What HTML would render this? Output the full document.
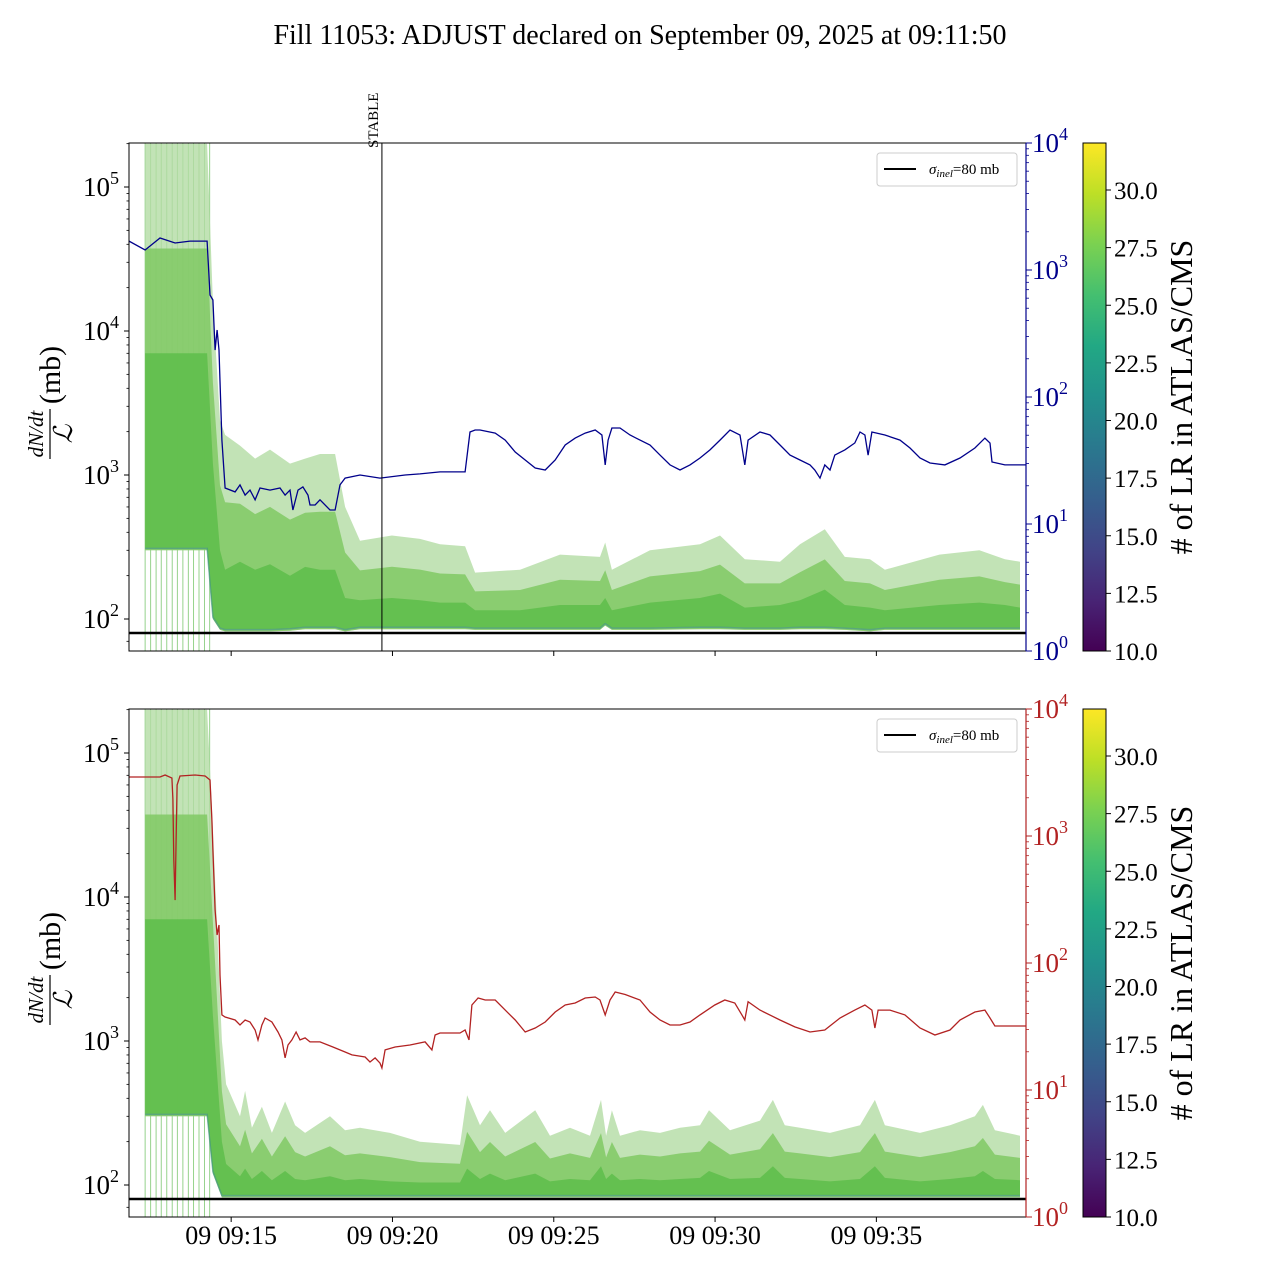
<!DOCTYPE html>
<html><head><meta charset="utf-8"><style>
html,body{margin:0;padding:0;background:#fff;}
svg{display:block;font-family:"Liberation Serif",serif;}
</style></head><body>
<svg id="fig" width="1280" height="1280" viewBox="0 0 1280 1280" xmlns="http://www.w3.org/2000/svg">
<defs>
<linearGradient id="viridis" x1="0" y1="1" x2="0" y2="0">
<stop offset="0" stop-color="#440154"/><stop offset="0.1" stop-color="#482475"/><stop offset="0.2" stop-color="#414487"/><stop offset="0.3" stop-color="#355f8d"/><stop offset="0.4" stop-color="#2a788e"/><stop offset="0.5" stop-color="#21918c"/><stop offset="0.6" stop-color="#22a884"/><stop offset="0.7" stop-color="#44bf70"/><stop offset="0.8" stop-color="#7ad151"/><stop offset="0.9" stop-color="#bddf26"/><stop offset="1" stop-color="#fde725"/>
</linearGradient>
<clipPath id="clipTop"><rect x="129" y="143" width="897" height="508"/></clipPath>
<clipPath id="clipBot"><rect x="129" y="709" width="897" height="508"/></clipPath>
</defs>
<text x="640" y="44" font-size="28" text-anchor="middle">Fill 11053: ADJUST declared on September 09, 2025 at 09:11:50</text>
</svg>
<script>
// ---------- data ----------
// time in minutes since 09:11:50
const spikeTimes = [0.50,0.67,0.84,1.00,1.17,1.34,1.50,1.67,1.84,2.00,2.17,2.34,2.50];
const stableTime = 7.84;
const sigmaInel = 80;
const xTickLabels = ["09 09:15","09 09:20","09 09:25","09 09:30","09 09:35"];
const xTickTimes = [3.167,8.167,13.167,18.167,23.167];
const leftTickVals = [100,1000,10000,100000];
const leftTickExp = ["2","3","4","5"];
const rightTickVals = [1,10,100,1000,10000];
const rightTickExp = ["0","1","2","3","4"];
const cbarTicks = [10.0,12.5,15.0,17.5,20.0,22.5,25.0,27.5,30.0];

const topBandT = [0.50,2.42,2.60,2.82,2.98,3.44,3.91,4.37,4.99,5.46,5.92,6.39,6.70,7.16,8.15,9.02,9.64,10.42,10.73,12.12,13.36,14.60,14.76,14.97,16.15,17.70,18.32,19.09,20.18,20.80,21.57,22.19,22.97,23.43,25.12,26.36,27.15,27.62];
const topBandUpper = [200000,200000,16000,2400,1900,1600,1300,1500,1200,1300,1400,1400,600,350,380,360,330,320,210,220,280,270,340,220,300,330,380,260,250,330,420,270,260,220,280,300,260,250];
const topBandMid = [7000,7000,1200,300,220,250,220,240,200,230,220,220,140,135,140,135,130,130,115,115,125,125,140,115,130,140,150,120,125,135,160,125,120,115,125,130,125,120];
const topBandLower = [300,300,100,84,82,82,82,82,83,85,85,85,82,85,85,85,85,85,84,84,84,84,90,84,84,85,85,84,84,85,85,84,82,84,84,84,84,84];

const botBandT = [0.50,2.42,2.60,2.88,3.01,3.44,3.60,3.81,4.12,4.43,4.84,5.15,5.46,6.23,6.70,7.16,8.09,9.02,10.26,10.48,10.88,11.19,11.66,12.59,13.05,13.67,14.29,14.63,14.79,14.97,15.22,15.84,16.46,17.08,17.70,17.98,18.63,19.56,19.96,20.33,20.80,21.73,22.66,23.12,23.43,24.52,25.45,26.22,26.47,26.84,27.62];
const botBandUpper = [200000,200000,30000,1000,500,300,450,250,350,230,380,260,230,300,240,250,230,200,190,420,260,330,230,330,220,250,220,390,220,330,220,240,230,250,260,330,240,280,390,260,250,230,260,390,260,230,260,300,360,240,220];
const botBandMid = [7000,7000,1500,200,140,115,130,110,125,108,125,110,108,115,108,110,106,104,104,130,110,120,108,120,106,110,108,135,110,120,108,110,108,110,112,125,110,112,135,112,110,106,110,135,112,106,110,115,125,110,108];
const botBandLower = [300,300,120,82,82,82,82,82,82,82,82,82,82,82,82,82,82,82,82,82,82,82,82,82,82,82,82,82,82,82,82,82,82,82,82,82,82,82,82,82,82,82,82,82,82,82,82,82,82,82,82];

const blueT = [0,0.50,0.96,1.43,1.89,2.42,2.51,2.60,2.67,2.73,2.79,2.88,2.98,3.29,3.44,3.60,3.75,3.91,4.06,4.37,4.68,4.84,4.99,5.08,5.24,5.39,5.55,5.61,5.77,5.92,6.23,6.39,6.45,6.54,6.70,7.16,7.78,8.56,9.02,9.64,10.42,10.57,10.73,10.88,11.35,11.66,11.97,12.28,12.59,12.90,13.21,13.52,13.83,14.14,14.45,14.66,14.76,14.85,14.97,15.22,15.53,15.84,16.15,16.46,16.77,17.08,17.39,17.70,18.01,18.32,18.63,18.94,19.09,19.19,19.56,19.87,20.18,20.49,20.80,21.11,21.26,21.42,21.57,21.73,21.88,22.19,22.50,22.66,22.81,22.91,23.03,23.43,23.90,24.21,24.52,24.83,25.29,25.76,26.22,26.53,26.69,26.75,27.15,27.81];
const blueV = [1690,1436,1786,1632,1690,1690,635,580,234,337,234,45.8,19.2,17.9,20.3,16.9,18.5,15.5,19.2,18.5,19.2,16.9,18.5,12.9,18.5,19.6,16.9,14.1,14.1,15.5,12.9,12.9,15.5,20.3,23.0,24.3,23.0,24.3,24.8,25.7,25.7,53,55,55,52,45.8,36.9,31.9,27.6,26.6,31.9,41.9,47.5,52,55,50.2,29.2,45.8,57,57,50.2,45.8,41.9,34.9,29.2,26.6,29.2,33.1,38.3,45.8,55,50.2,29.2,45.8,53,50.2,41.9,34.9,31.9,29.2,26.6,23.0,29.2,26.6,34.9,38.3,43.4,53,50.2,34.9,53,50.2,45.8,39.7,33.1,30.2,29.2,33.1,39.7,47.5,43.4,30.8,29.2,29.2];

const redT = [0,0.96,1.12,1.33,1.36,1.39,1.43,1.46,1.49,1.58,2.05,2.36,2.51,2.57,2.60,2.67,2.73,2.79,2.82,2.88,2.98,3.29,3.44,3.60,3.75,3.91,4.00,4.12,4.22,4.43,4.62,4.74,4.84,4.93,5.05,5.18,5.30,5.46,5.61,5.92,6.32,6.70,6.91,7.32,7.47,7.63,7.78,7.84,7.94,8.25,8.71,9.18,9.39,9.49,9.64,10.26,10.42,10.54,10.63,10.82,11.04,11.35,11.66,11.97,12.28,12.59,12.90,13.21,13.52,13.83,14.14,14.45,14.60,14.76,14.91,15.07,15.38,15.84,16.15,16.46,16.77,17.08,17.39,17.70,18.16,18.47,18.78,19.00,19.09,19.19,19.56,20.18,20.64,21.11,21.57,22.04,22.50,22.81,23.03,23.12,23.22,23.59,24.05,24.52,24.98,25.45,25.76,26.22,26.53,26.69,26.84,27.81];
const redV = [2915,2915,3020,2863,1955,648,313,930,2522,2966,3020,2966,2761,1336,776,261,166,199,80.5,39,37.6,35.6,32.5,35.6,34.3,29.7,24.8,32.5,36.9,34.3,28.6,24.8,17.9,22.6,24.8,28.6,24.8,25.7,23.9,23.9,21.8,19.9,18.9,18.2,16.6,17.9,16.3,14.9,20.7,21.8,22.6,23.9,20.7,27.1,28.1,28.1,29.7,24.8,46.7,53.0,51.1,51.1,42.6,35.6,28.6,30.8,34.3,41.1,46.7,48.4,53.0,54.0,51.1,39,51.1,59.1,56.5,51.1,41.1,35.6,32.5,32.5,34.3,39,46.7,51.1,48.4,39,35.6,49.6,42.6,35.6,31.4,28.6,29.7,36.9,42.6,46.7,42.6,30.8,42.6,42.6,39,30.8,27.1,29.7,35.6,41.1,42.6,36.9,31.9,31.9];

// ---------- helpers ----------
const NS = "http://www.w3.org/2000/svg";
const svg = document.getElementById('fig');
function mk(tag, attrs, parent){ const e=document.createElementNS(NS,tag); for(const k in attrs) e.setAttribute(k,attrs[k]); (parent||svg).appendChild(e); return e; }
const X0=129, X1=1026, PXMIN=32.26;
function xS(t){ return X0 + t*PXMIN; }

function panel(top, rightColor, bandT, bU, bM, bL, lineT, lineV, clipId, showXLabels, prefix){
  const bot = top+508;
  const yL = v => (top+476) - (Math.log10(v)-2)*144;
  const yR = v => bot - Math.log10(v)*127;
  const g = mk('g',{'clip-path':'url(#'+clipId+')'});
  
  
  spikeTimes.forEach(t=>{
    const l = mk('line',{x1:xS(t),x2:xS(t),y1:top,y2:bot,stroke:'#7cc870','stroke-width':1,opacity:0.8},g);
    
    
  });
  function area(upperFn, lowerFn, fill, op, name){
    let d='';
    bandT.forEach((t,i)=>{ d += (i?'L':'M')+xS(t).toFixed(1)+','+yL(upperFn(i)).toFixed(1); });
    for(let i=bandT.length-1;i>=0;i--) d += 'L'+xS(bandT[i]).toFixed(1)+','+yL(lowerFn(i)).toFixed(1);
    const p = mk('path',{d:d+'Z',fill:fill,opacity:op},g);
    
    
  }
  area(i=>bU[i], i=>bL[i], '#b3dca4', 0.8, prefix+'-band-envelope');
  area(i=>Math.sqrt(bU[i]*bM[i]), i=>bL[i], '#80c964', 0.85, prefix+'-band-dense');
  area(i=>bM[i], i=>bL[i]*1.04, '#62bf4e', 0.95, prefix+'-band-core');
  let dl='';
  bandT.forEach((t,i)=>{ dl += (i?'L':'M')+xS(t).toFixed(1)+','+yL(bL[i]*1.03).toFixed(1); });
  const le = mk('path',{d:dl,fill:'none',stroke:'#3a8f86','stroke-width':1.5,opacity:0.6},g);
  
  
  const sl = mk('line',{x1:X0,x2:X1,y1:yL(sigmaInel),y2:yL(sigmaInel),stroke:'#000','stroke-width':2.5},g);
  
  
  let d='';
  lineT.forEach((t,i)=>{ d += (i?'L':'M')+xS(t).toFixed(1)+','+yR(lineV[i]).toFixed(1); });
  const rl = mk('path',{d:d,fill:'none',stroke:rightColor,'stroke-width':1.3},g);
  
  
  const fr = mk('rect',{x:X0,y:top,width:X1-X0,height:508,fill:'none',stroke:'#000','stroke-width':1});
  
  
  const rs = mk('line',{x1:X1,x2:X1,y1:top,y2:bot,stroke:rightColor,'stroke-width':1.2});
  
  
  leftTickVals.forEach((v,i)=>{
    const y=yL(v);
    mk('line',{x1:X0-5,x2:X0,y1:y,y2:y,stroke:'#000'});
    for(let k=2;k<10;k++){ const ym=yL(v*k); if(ym>top&&ym<bot) mk('line',{x1:X0-2.5,x2:X0,y1:ym,y2:ym,stroke:'#000','stroke-width':0.8}); }
    const tx = mk('text',{x:X0-10,y:y+9,'font-size':27,'text-anchor':'end'});
    
    
    tx.innerHTML = '10<tspan dy="-12" font-size="18">'+leftTickExp[i]+'</tspan>';
  });
  const ym7 = yL(70); mk('line',{x1:X0-2.5,x2:X0,y1:ym7,y2:ym7,stroke:'#000','stroke-width':0.8});
  rightTickVals.forEach((v,i)=>{
    const y=yR(v);
    mk('line',{x1:X1,x2:X1+6,y1:y,y2:y,stroke:rightColor});
    if(i<4) for(let k=2;k<10;k++){ const ym=yR(v*k); mk('line',{x1:X1,x2:X1+3,y1:ym,y2:ym,stroke:rightColor,'stroke-width':0.8}); }
    const tx = mk('text',{x:X1+6,y:y+9,'font-size':27,fill:rightColor});
    
    
    tx.innerHTML = '10<tspan dy="-12" font-size="18">'+rightTickExp[i]+'</tspan>';
  });
  xTickTimes.forEach((t,i)=>{
    mk('line',{x1:xS(t),x2:xS(t),y1:bot,y2:bot+5,stroke:'#000'});
    if(showXLabels){
      const tx = mk('text',{x:xS(t),y:bot+27,'font-size':26,'text-anchor':'middle'});
      
      
      tx.textContent = xTickLabels[i];
    }
  });
  const lg = mk('g',{});
  
  
  mk('rect',{x:877,y:top+10,width:140,height:33,rx:3,fill:'#fff',stroke:'#ccc','fill-opacity':0.85},lg);
  mk('line',{x1:884,x2:916,y1:top+26,y2:top+26,stroke:'#000','stroke-width':2},lg);
  const lt = mk('text',{x:929,y:top+31,'font-size':15},lg);
  
  
  lt.innerHTML = '<tspan font-style="italic">σ</tspan><tspan font-style="italic" font-size="11" dy="3">inel</tspan><tspan dy="-3">=80 mb</tspan>';
  const yl = mk('g',{transform:'translate(50,'+(top+254)+') rotate(-90)'});
  
  
  mk('text',{x:-37,y:-7,'font-size':21,'font-style':'italic','text-anchor':'middle'},yl).textContent='dN/dt';
  mk('line',{x1:-62,x2:-12,y1:0,y2:0,stroke:'#000','stroke-width':1.2},yl);
  mk('text',{x:-37,y:22,'font-size':26,'font-style':'italic','text-anchor':'middle'},yl).textContent='ℒ';
  mk('text',{x:22,y:10,'font-size':30,'text-anchor':'middle'},yl).textContent='(mb)';
  const cb = mk('rect',{x:1083,y:top,width:23,height:508,fill:'url(#viridis)',stroke:'#000','stroke-width':1});
  
  
  const cbY = v => bot - (v-10)*23.05;
  cbarTicks.forEach(v=>{
    const y=cbY(v);
    mk('line',{x1:1106,x2:1111,y1:y,y2:y,stroke:'#000'});
    const tx = mk('text',{x:1114,y:y+9,'font-size':25});
    
    
    tx.textContent = v.toFixed(1);
  });
  const ct = mk('text',{x:0,y:0,'font-size':32,'text-anchor':'middle',transform:'translate(1192,'+(top+254)+') rotate(-90)'});
  
  
  ct.textContent = '# of LR in ATLAS/CMS';
}

panel(143, '#00008b', topBandT, topBandUpper, topBandMid, topBandLower, blueT, blueV, 'clipTop', false, 'top');
panel(709, '#b22222', botBandT, botBandUpper, botBandMid, botBandLower, redT, redV, 'clipBot', true, 'bottom');

const sx = xS(stableTime);
const st = mk('line',{x1:sx,x2:sx,y1:143,y2:651,stroke:'#000','stroke-width':1});


const stt = mk('text',{x:0,y:0,'font-size':15,'text-anchor':'start',transform:'translate('+(sx-4)+',148) rotate(-90)'});


stt.textContent = 'STABLE';
</script>
</body></html>
